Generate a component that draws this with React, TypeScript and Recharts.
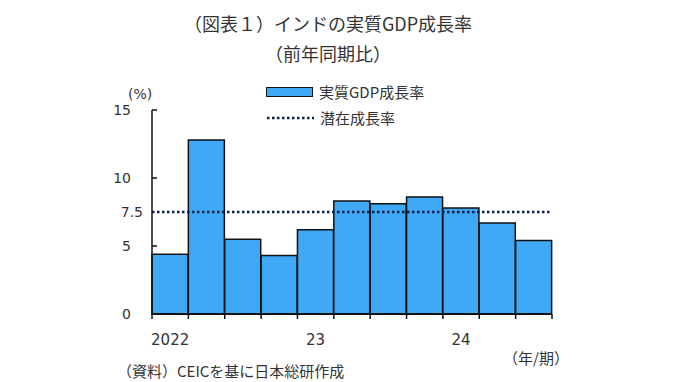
import { BarChart, Bar, XAxis, YAxis, ReferenceLine } from 'recharts'

const quarters = [
  '2022/1Q', '2022/2Q', '2022/3Q', '2022/4Q',
  '2023/1Q', '2023/2Q', '2023/3Q', '2023/4Q',
  '2024/1Q', '2024/2Q', '2024/3Q',
]
const tickLabels = ['2022', '', '', '', '23', '', '', '', '24', '', '']
const realGdp = [4.4, 12.8, 5.5, 4.3, 6.2, 8.3, 8.1, 8.6, 7.8, 6.7, 5.4]
const potentialGrowth = 7.5
const yTicks = [0, 5, 7.5, 10, 15]

const data = quarters.map((q, i) => ({ q, gdp: realGdp[i] }))

const FONT = '"Noto Sans CJK JP", "Noto Sans", sans-serif'
const NUM_FONT = '"DejaVu Sans", "Noto Sans CJK JP", sans-serif'
const TEXT = '#333'
const PLOT_LEFT = 152
const PLOT_RIGHT = 552
const BAND = (PLOT_RIGHT - PLOT_LEFT) / quarters.length

function XTick(props: any) {
  const { x, y, index } = props
  const left = x - BAND / 2
  return (
    <g>
      <line x1={left} x2={left} y1={y} y2={y + 5} stroke="#111" strokeWidth={1.5} />
      {index === quarters.length - 1 && (
        <line x1={x + BAND / 2} x2={x + BAND / 2} y1={y} y2={y + 5} stroke="#111" strokeWidth={1.5} />
      )}
      <text x={x} y={y + 31} textAnchor="middle" fontSize={15} fill={TEXT} fontFamily={NUM_FONT}>
        {tickLabels[index]}
      </text>
    </g>
  )
}

function YTick(props: any) {
  const { y, payload } = props
  const v = payload.value as number
  const endX = v === 7.5 ? 143 : 131
  return (
    <g>
      {(v === 5 || v === 10 || v === 15) && (
        <line x1={PLOT_LEFT} x2={PLOT_LEFT + 5} y1={y} y2={y} stroke="#111" strokeWidth={1.5} />
      )}
      <text x={endX} y={y + 5} textAnchor="end" fontSize={14} fill={TEXT} fontFamily={NUM_FONT}>
        {v}
      </text>
    </g>
  )
}

function LegendBox() {
  return (
    <div style={{ fontFamily: FONT, fontSize: 15, color: TEXT, lineHeight: '26px' }}>
      <div style={{ display: 'flex', alignItems: 'center' }}>
        <span
          style={{
            display: 'inline-block',
            width: 45,
            height: 8,
            background: '#3fa9f5',
            border: '1.5px solid #111',
            marginRight: 6,
          }}
        />
        実質GDP成長率
      </div>
      <div style={{ display: 'flex', alignItems: 'center' }}>
        <svg width={48} height={6} style={{ marginRight: 6 }}>
          <line x1={1} x2={48} y1={3} y2={3} stroke="#0b1f4d" strokeWidth={2.5} strokeDasharray="2.5 2.5" />
        </svg>
        潜在成長率
      </div>
    </div>
  )
}

export default function App() {
  return (
    <div style={{ position: 'absolute', left: 0, top: 0, width: 680, height: 382, background: '#fff' }}>
      <div
        style={{
          position: 'absolute',
          left: 0,
          width: 656,
          top: 8,
          textAlign: 'center',
          fontFamily: FONT,
          fontSize: 18,
          color: TEXT,
          lineHeight: '30px',
        }}
      >
        <div>（図表１）インドの実質GDP成長率</div>
        <div>（前年同期比）</div>
      </div>
      <div style={{ position: 'absolute', left: 128, top: 86, fontFamily: NUM_FONT, fontSize: 14, color: TEXT }}>
        (%)
      </div>
      <div style={{ position: 'absolute', left: 266, top: 79, width: 220 }}>
        <LegendBox />
      </div>
      <div style={{ position: 'absolute', left: 0, top: 0 }}>
        <BarChart
          width={680}
          height={382}
          data={data}
          margin={{ top: 110, right: 128, bottom: 38, left: 92 }}
          barCategoryGap={0}
        >
          <XAxis
            dataKey="q"
            interval={0}
            tickSize={0}
            tickMargin={0}
            tick={<XTick />}
            axisLine={{ stroke: '#111', strokeWidth: 2 }}
            height={30}
          />
          <YAxis
            domain={[0, 15]}
            ticks={yTicks}
            interval={0}
            tickLine={false}
            tick={<YTick />}
            axisLine={{ stroke: '#111', strokeWidth: 1.5 }}
            width={60}
          />
          <Bar dataKey="gdp" fill="#3fa9f5" stroke="#111" strokeWidth={1.5} isAnimationActive={false} />
          <ReferenceLine
            y={potentialGrowth}
            stroke="#0b1f4d"
            strokeWidth={2.5}
            strokeDasharray="2.5 2.5"
          />
        </BarChart>
      </div>
      <div style={{ position: 'absolute', left: 503, top: 347, fontFamily: FONT, fontSize: 15, color: TEXT }}>
        （年/期）
      </div>
      <div style={{ position: 'absolute', left: 117, top: 360, fontFamily: FONT, fontSize: 15, color: TEXT }}>
        （資料）CEICを基に日本総研作成
      </div>
    </div>
  )
}
